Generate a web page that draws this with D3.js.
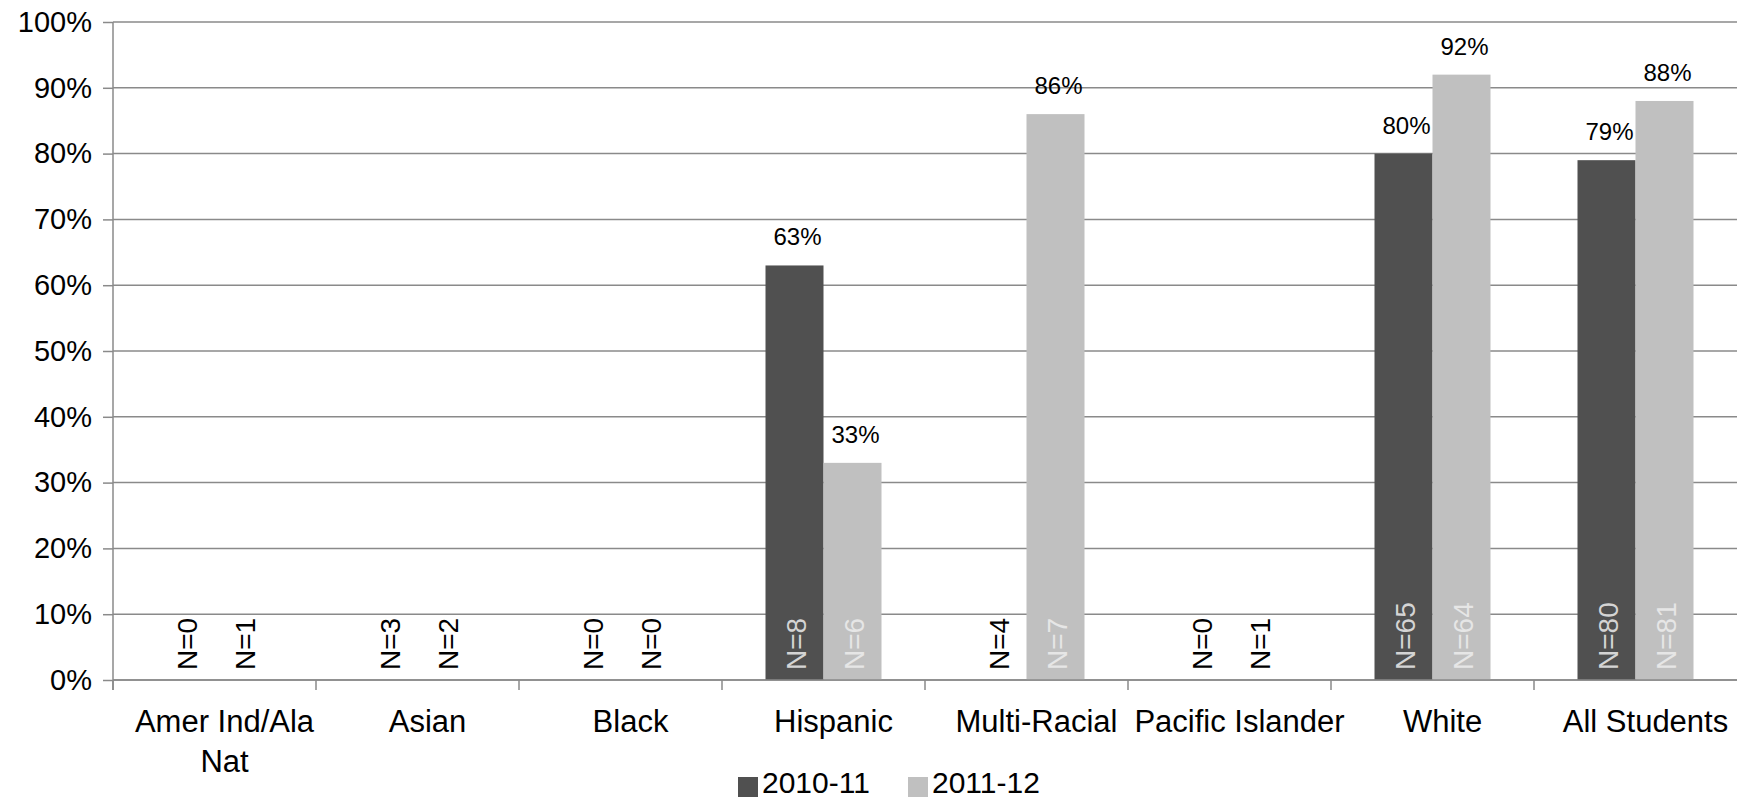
<!DOCTYPE html>
<html>
<head>
<meta charset="utf-8">
<script src="https://cdn.jsdelivr.net/npm/d3@7"></script>
<style>
html,body{margin:0;padding:0;background:#fff;}
svg{display:block;font-family:"Liberation Sans",Arial,sans-serif;}
</style>
</head>
<body>
<svg id="chart" width="1737" height="801"></svg>
<script>
const categories = ["Amer Ind/Ala Nat","Asian","Black","Hispanic","Multi-Racial","Pacific Islander","White","All Students"];
const categoryLines = [["Amer Ind/Ala","Nat"],["Asian"],["Black"],["Hispanic"],["Multi-Racial"],["Pacific Islander"],["White"],["All Students"]];
const seriesNames = ["2010-11","2011-12"];
const values2010 = [null,null,null,0.63,null,null,0.80,0.79];
const values2011 = [null,null,null,0.33,0.86,null,0.92,0.88];
const counts2010 = [0,3,0,8,4,0,65,80];
const counts2011 = [1,2,0,6,7,1,64,81];
const yTicks = [0,0.1,0.2,0.3,0.4,0.5,0.6,0.7,0.8,0.9,1.0];
const colors = ["#505050","#c0c0c0"];
const countColorsOnBar = ["#d4d4d4","#e6e6e6"];

(function(){
const svg = d3.select("#chart");
const mLeft = 113, mRight = 1737, mTop = 22, mBottom = 680;

const x0 = d3.scaleBand().domain(categories).range([mLeft, mRight]).padding(0);
const x1 = d3.scaleBand().domain(seriesNames).range([0, x0.bandwidth()]).paddingInner(0).paddingOuter(0.75);
const y = d3.scaleLinear().domain([0,1]).range([mBottom, mTop]);
const color = d3.scaleOrdinal().domain(seriesNames).range(colors);

const gridColor = "#8a8a8a";

svg.append("g").selectAll("line").data(yTicks).join("line")
  .attr("x1", mLeft).attr("x2", mRight)
  .attr("y1", d => y(d)).attr("y2", d => y(d))
  .attr("stroke", gridColor).attr("stroke-width", 1.5);

const yAxis = d3.axisLeft(y).tickValues(yTicks).tickFormat(d3.format(".0%")).tickSize(10).tickPadding(11);
const gy = svg.append("g").attr("transform", `translate(${mLeft},0)`).call(yAxis);
gy.select(".domain").remove();
gy.selectAll(".tick line").attr("stroke", gridColor).attr("stroke-width", 1.5);
gy.selectAll(".tick text").attr("font-size", 29).attr("fill", "#000")
  .attr("font-family", "Liberation Sans, Arial, sans-serif");
svg.append("line").attr("x1", mLeft).attr("x2", mLeft).attr("y1", mTop).attr("y2", mBottom + 10)
  .attr("stroke", gridColor).attr("stroke-width", 1.5);

const rows = categories.map((c, i) => ({
  cat: c,
  items: [
    {s: seriesNames[0], v: values2010[i], n: counts2010[i], k: 0},
    {s: seriesNames[1], v: values2011[i], n: counts2011[i], k: 1}
  ]
}));

const groups = svg.append("g").selectAll("g").data(rows).join("g")
  .attr("transform", d => `translate(${x0(d.cat)},0)`);

groups.selectAll("rect").data(d => d.items.filter(it => it.v != null)).join("rect")
  .attr("x", d => x1(d.s)).attr("width", x1.bandwidth())
  .attr("y", d => y(d.v)).attr("height", d => y(0) - y(d.v))
  .attr("fill", d => color(d.s));

groups.selectAll("text.val").data(d => d.items.filter(it => it.v != null)).join("text")
  .attr("class", "val")
  .attr("x", d => x1(d.s) + x1.bandwidth() / 2 + 3)
  .attr("y", d => y(d.v) - 20)
  .attr("text-anchor", "middle").attr("font-size", 24).attr("fill", "#000")
  .text(d => d3.format(".0%")(d.v));

groups.selectAll("text.n").data(d => d.items).join("text")
  .attr("class", "n")
  .attr("transform", d => `translate(${x1(d.s) + x1.bandwidth() / 2 + 2},${y(0) - 10}) rotate(-90)`)
  .attr("text-anchor", "start").attr("dominant-baseline", "central")
  .attr("font-size", 28)
  .attr("fill", d => d.v != null ? countColorsOnBar[d.k] : "#000")
  .text(d => "N=" + d.n);

svg.append("line").attr("x1", mLeft).attr("x2", mRight).attr("y1", mBottom).attr("y2", mBottom)
  .attr("stroke", gridColor).attr("stroke-width", 1.5);
svg.append("g").selectAll("line").data(categories).join("line")
  .attr("x1", d => x0(d)).attr("x2", d => x0(d))
  .attr("y1", mBottom).attr("y2", mBottom + 10)
  .attr("stroke", gridColor).attr("stroke-width", 1.5);

const catText = svg.append("g").selectAll("text").data(categories).join("text")
  .attr("text-anchor", "middle").attr("font-size", 31).attr("fill", "#000");
catText.each(function(d, i) {
  const t = d3.select(this);
  categoryLines[i].forEach((line, j) => {
    t.append("tspan").attr("x", x0(d) + x0.bandwidth() / 2 + 10).attr("y", 732 + j * 40).text(line);
  });
});

const legendX = [738, 908];
const lg = svg.append("g").selectAll("g").data(seriesNames).join("g")
  .attr("transform", (d, i) => `translate(${legendX[i]},0)`);
lg.append("rect").attr("x", 0).attr("y", 777).attr("width", 20).attr("height", 20)
  .attr("fill", d => color(d));
lg.append("text").attr("x", 24).attr("y", 793).attr("font-size", 30).attr("fill", "#000").text(d => d);
})();
</script>
</body>
</html>
